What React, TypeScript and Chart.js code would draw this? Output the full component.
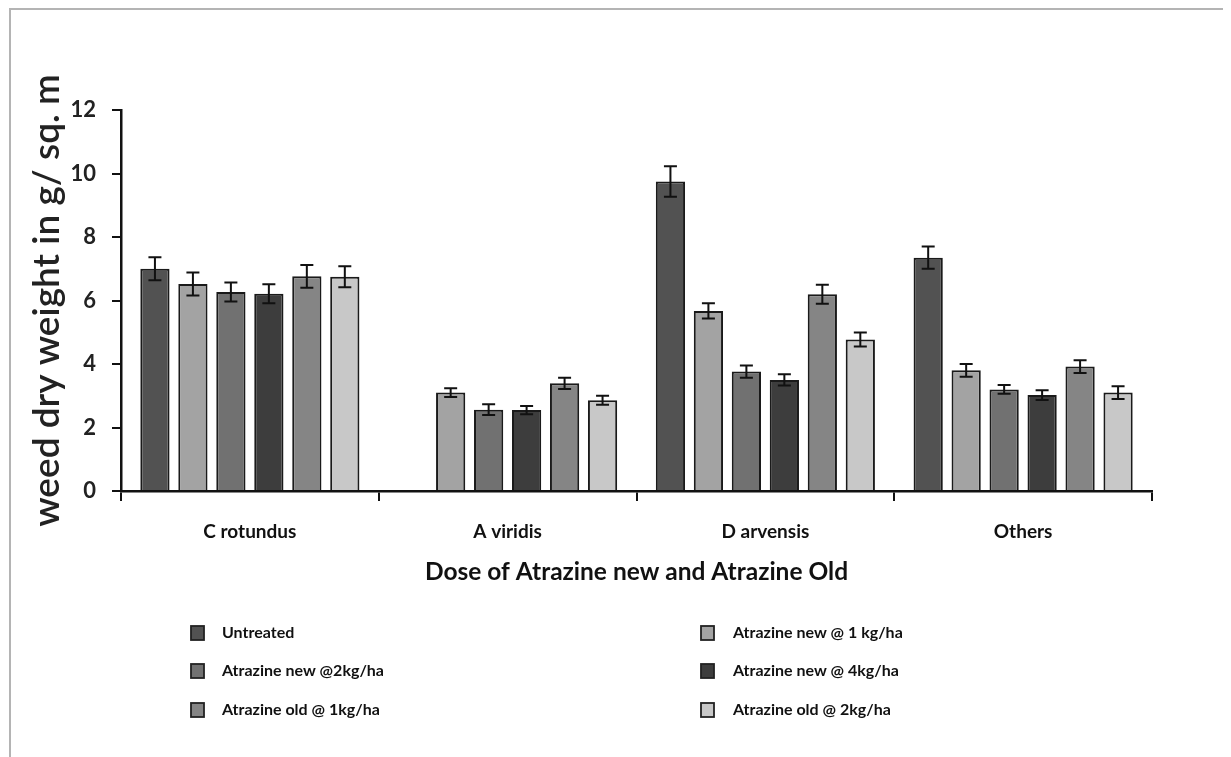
import React, { useEffect, useRef } from "react";
import { Chart, registerables } from "chart.js";

Chart.register(...registerables);

const categories = ["C rotundus", "A viridis", "D arvensis", "Others"];
const seriesLabels = [
  "Untreated",
  "Atrazine new @ 1 kg/ha",
  "Atrazine new @2kg/ha",
  "Atrazine new @ 4kg/ha",
  "Atrazine old @ 1kg/ha",
  "Atrazine old @ 2kg/ha",
];
const seriesColors = ["#525252", "#a3a3a3", "#717171", "#3d3d3d", "#858585", "#c8c8c8"];

const untreated = [7.0, null, 9.75, 7.35];
const newAt1 = [6.52, 3.1, 5.67, 3.8];
const newAt2 = [6.27, 2.56, 3.76, 3.2];
const newAt4 = [6.21, 2.55, 3.5, 3.02];
const oldAt1 = [6.76, 3.39, 6.2, 3.92];
const oldAt2 = [6.75, 2.86, 4.77, 3.1];

const untreatedErr = [0.36, 0, 0.48, 0.35];
const newAt1Err = [0.36, 0.14, 0.24, 0.2];
const newAt2Err = [0.3, 0.17, 0.19, 0.14];
const newAt4Err = [0.3, 0.13, 0.18, 0.15];
const oldAt1Err = [0.36, 0.18, 0.3, 0.2];
const oldAt2Err = [0.33, 0.14, 0.22, 0.2];

const yTicks = [0, 2, 4, 6, 8, 10, 12];

const seriesValues = [untreated, newAt1, newAt2, newAt4, oldAt1, oldAt2];
const seriesErrors = [untreatedErr, newAt1Err, newAt2Err, newAt4Err, oldAt1Err, oldAt2Err];

const FONT = "Lato, 'Open Sans', 'DejaVu Sans', sans-serif";

const errorBarPlugin = {
  id: "errorBars",
  afterDatasetsDraw(chart: any) {
    const ctx = chart.ctx;
    const y = chart.scales.y;
    ctx.save();
    ctx.strokeStyle = "#111";
    ctx.lineWidth = 2;
    chart.data.datasets.forEach((ds: any, di: number) => {
      const meta = chart.getDatasetMeta(di);
      meta.data.forEach((el: any, i: number) => {
        const v = ds.data[i];
        const e = ds.errors[i];
        if (v === null || v === undefined || !e) return;
        const x = el.x;
        const yt = y.getPixelForValue(v + e);
        const yb = y.getPixelForValue(v - e);
        const cap = 6.5;
        ctx.beginPath();
        ctx.moveTo(x, yt);
        ctx.lineTo(x, yb);
        ctx.moveTo(x - cap, yt);
        ctx.lineTo(x + cap, yt);
        ctx.moveTo(x - cap, yb);
        ctx.lineTo(x + cap, yb);
        ctx.stroke();
      });
    });
    ctx.restore();
  },
};

const legendPlugin = {
  id: "gridLegend",
  afterDraw(chart: any) {
    const ctx = chart.ctx;
    ctx.save();
    const colX = [180, 690];
    const textX = [211, 722];
    const rowY = [623, 661, 700];
    ctx.font = `bold 16px ${FONT}`;
    ctx.textBaseline = "middle";
    ctx.textAlign = "left";
    chart.data.datasets.forEach((ds: any, i: number) => {
      const c = i % 2;
      const r = Math.floor(i / 2);
      const bx = colX[c];
      const by = rowY[r] - 7;
      ctx.fillStyle = ds.backgroundColor;
      ctx.fillRect(bx, by, 13, 14);
      ctx.strokeStyle = "#222";
      ctx.lineWidth = 1.8;
      ctx.strokeRect(bx, by, 13, 14);
      ctx.fillStyle = "#111";
      ctx.fillText(ds.label, textX[c], rowY[r]);
    });
    ctx.restore();
  },
};

export default function App() {
  const ref = useRef<HTMLCanvasElement | null>(null);
  useEffect(() => {
    if (!ref.current) return;
    const chart = new Chart(ref.current, {
      type: "bar",
      data: {
        labels: categories,
        datasets: seriesLabels.map((label, i) => ({
          label,
          data: seriesValues[i] as any,
          errors: seriesErrors[i],
          backgroundColor: seriesColors[i],
          borderColor: "#1a1a1a",
          borderWidth: 2,
          categoryPercentage: 0.884,
          barPercentage: 0.77,
        })) as any,
      },
      options: {
        animation: false,
        responsive: false,
        layout: { padding: { left: 0, top: 100, right: 79, bottom: 166 } },
        plugins: {
          legend: { display: false },
          tooltip: { enabled: false },
        },
        scales: {
          x: {
            afterFit: (s: any) => {
              s.height = 100;
            },
            grid: {
              display: true,
              drawOnChartArea: false,
              drawTicks: true,
              tickLength: 10,
              color: "#111",
              lineWidth: 2,
              offset: true,
            },
            border: { display: true, color: "#111", width: 2.5 },
            ticks: {
              color: "#111",
              padding: 19,
              font: { family: FONT, size: 19, weight: "bold" },
            },
            title: {
              display: true,
              text: "Dose of Atrazine new and Atrazine Old",
              color: "#111",
              font: { family: FONT, size: 24.5, weight: "bold" },
              padding: { top: 0, bottom: 4 },
            },
          },
          y: {
            min: 0,
            max: 12,
            afterFit: (s: any) => {
              s.width = 110;
            },
            afterBuildTicks: (s: any) => {
              s.ticks = yTicks.map((v) => ({ value: v }));
            },
            grid: {
              display: true,
              drawOnChartArea: false,
              drawTicks: true,
              tickLength: 9,
              color: "#111",
              lineWidth: 2,
            },
            border: { display: true, color: "#111", width: 2.5 },
            ticks: {
              color: "#222",
              padding: 16,
              font: { family: FONT, size: 22, weight: "bold" },
            },
            title: {
              display: true,
              text: "weed dry weight in g/ sq. m",
              color: "#222",
              font: { family: FONT, size: 37, weight: 600 },
              padding: { top: 14, bottom: 0 },
            },
          },
        },
      } as any,
      plugins: [errorBarPlugin, legendPlugin],
    });
    return () => chart.destroy();
  }, []);
  return (
    <div
      style={{
        width: 1222,
        height: 749,
        marginLeft: 1,
        borderTop: "2px solid #b4b4b4",
        borderLeft: "2px solid #b4b4b4",
        boxSizing: "border-box",
        background: "#fff",
      }}
    >
      <canvas ref={ref} width={1220} height={747} style={{ display: "block" }} />
    </div>
  );
}
